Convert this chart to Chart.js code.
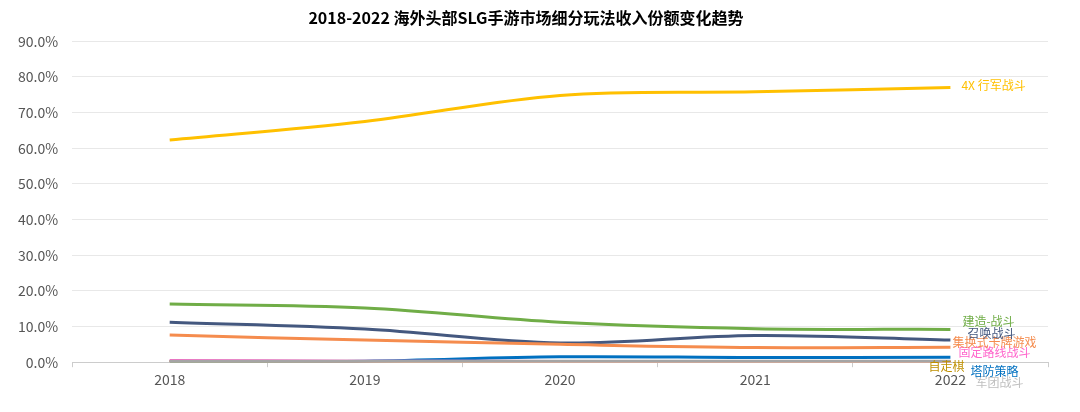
<!DOCTYPE html>
<html><head><meta charset="utf-8">
<script src="https://cdn.jsdelivr.net/npm/chart.js@4/dist/chart.umd.min.js"></script>
<style>html,body{margin:0;padding:0;background:#fff}#wrap{width:1080px;height:412px}</style>
</head><body><div id="wrap"><canvas id="c" width="1080" height="412"></canvas></div>
<script>
const categories = ['2018','2019','2020','2021','2022'];
const seriesNames = ['4X 行军战斗','建造-战斗','召唤战斗','集换式卡牌游戏','固定路线战斗','自走棋','塔防策略','军团战斗'];
const s4X = [62.3, 67.5, 74.8, 75.8, 77.0];
const sBuild = [16.3, 15.2, 11.2, 9.4, 9.2];
const sSummon = [11.2, 9.3, 5.4, 7.5, 6.2];
const sCard = [7.6, 6.2, 5.0, 4.1, 4.2];
const sFixed = [0.5, 0.3, 0.2, 0.2, 0.2];
const sAuto = [0.1, 0.1, 0.1, 0.1, 0.1];
const sTower = [0.2, 0.3, 1.5, 1.3, 1.4];
const sLegion = [0.3, 0.3, 0.3, 0.3, 0.3];
const yTicks = [0,10,20,30,40,50,60,70,80,90];

const styles = [
  {c:'#FFC000', lc:'#FFC000', dx:11, dy:-2},
  {c:'#70AD47', lc:'#70AD47', dx:12, dy:-8},
  {c:'#44587F', lc:'#44587F', dx:17, dy:-7},
  {c:'#F58C4E', lc:'#F58C4E', dx:2, dy:-5},
  {c:'#FF66CC', lc:'#FF66CC', dx:8, dy:-9},
  {c:'#BF9000', lc:'#BF9000', dx:-22, dy:5},
  {c:'#0070C0', lc:'#0070C0', dx:20, dy:14},
  {c:'#A5A5A5', lc:'#BFBFBF', dx:25, dy:21}
];
const allData = [s4X,sBuild,sSummon,sCard,sFixed,sAuto,sTower,sLegion];
const drawOrder = [7,5,4,6,3,2,1,0];
const datasets = drawOrder.map(i => ({
  label: seriesNames[i], data: allData[i], borderColor: styles[i].c, backgroundColor: styles[i].c,
  borderWidth: 3, pointRadius: 0, tension: 0.35, fill:false,
  endLabelColor: styles[i].lc, endDx: styles[i].dx, endDy: styles[i].dy
}));

const endLabels = {
  id:'endLabels',
  afterDraw(chart){
    const ctx = chart.ctx;
    ctx.save();
    ctx.font = '12px "Noto Sans CJK SC", sans-serif';
    ctx.textBaseline = 'middle';
    ctx.textAlign = 'left';
    chart.data.datasets.forEach((ds, i) => {
      const meta = chart.getDatasetMeta(i);
      const p = meta.data[meta.data.length-1];
      ctx.fillStyle = ds.endLabelColor;
      ctx.fillText(ds.label, p.x + ds.endDx, p.y + ds.endDy);
    });
    ctx.restore();
  }
};

new Chart(document.getElementById('c'), {
  type:'line',
  data:{labels:categories, datasets},
  options:{
    responsive:false, animation:false,
    layout:{padding:{left:4,right:32,top:2,bottom:20}},
    plugins:{
      legend:{display:false}, tooltip:{enabled:false},
      title:{display:true, text:'2018-2022 海外头部SLG手游市场细分玩法收入份额变化趋势',
        color:'#000', font:{family:'"Noto Sans CJK SC", sans-serif', size:16, weight:'bold'}, padding:{top:6,bottom:14}}
    },
    scales:{
      x:{offset:true,
        grid:{display:true, drawOnChartArea:false, drawTicks:true, tickLength:5, color:'#ccc', offset:true},
        border:{color:'#ccc'},
        ticks:{color:'#555', font:{family:'"Noto Sans CJK SC", sans-serif', size:14}, padding:4}},
      y:{min:0,max:90,
        afterBuildTicks(axis){ axis.ticks = yTicks.map(v=>({value:v})); },
        grid:{color:'#e8e8e8', drawTicks:false},
        border:{display:false},
        ticks:{color:'#555', padding:14, font:{family:'"Noto Sans CJK SC", sans-serif', size:14},
          callback:v=>v.toFixed(1)+'%'}}
    }
  },
  plugins:[endLabels]
});
</script></body></html>
